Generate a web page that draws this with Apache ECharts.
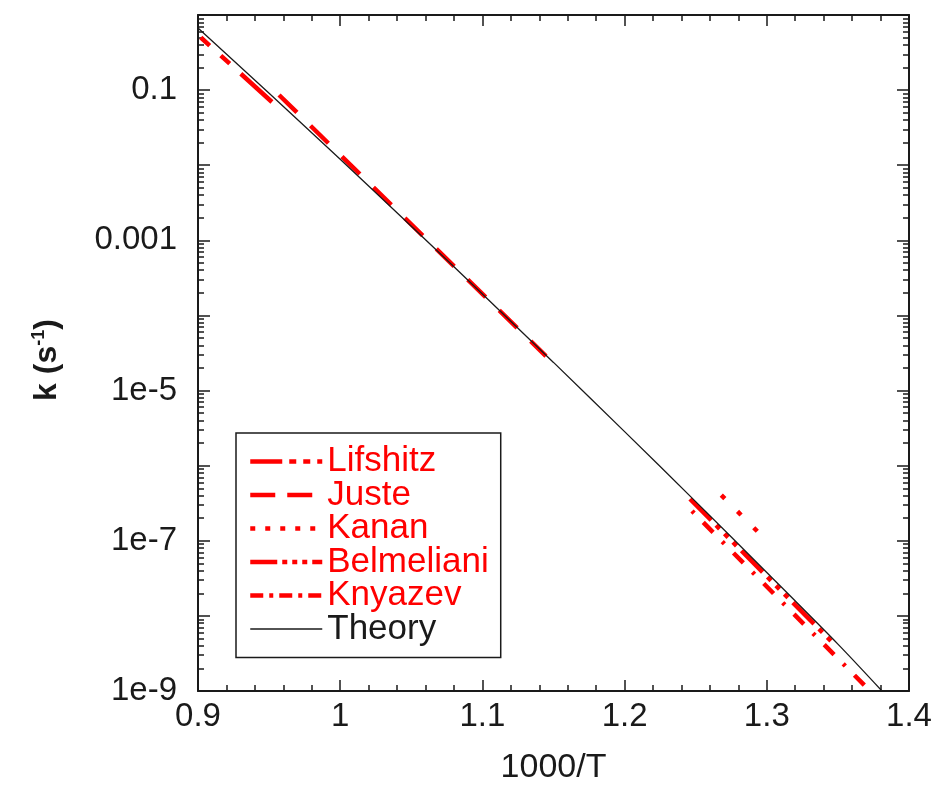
<!DOCTYPE html>
<html>
<head>
<meta charset="utf-8">
<script src="https://cdn.jsdelivr.net/npm/echarts@6/dist/echarts.min.js"></script>
<style>
  html, body { margin: 0; padding: 0; background: #fff; }
  #chart { width: 940px; height: 804px; }
</style>
</head>
<body>
<div id="chart"></div>
<script>
// Rate constant k (s^-1) versus 1000/T, log scale
const theoryX = [0.90, 0.95, 1.00, 1.05, 1.10, 1.15, 1.20, 1.25, 1.30, 1.35, 1.381];
const theoryK = [0.671, 0.0908, 0.0120, 1.54e-3, 1.93e-4, 2.37e-5, 2.84e-6, 3.32e-7, 3.78e-8, 4.21e-9, 1.0e-9];

const lifshitzX = [0.900, 0.952];
const lifshitzK = [0.542, 0.0695];

const justeX = [0.957, 1.1447];
const justeK = [0.0861, 2.88e-5];

const kananX = [1.2680, 1.2938];
const kananK = [4.05e-7, 1.31e-7];

const belmelianiX = [1.246, 1.3452];
const belmelianiK = [3.6e-7, 4.63e-9];

const knyazevX = [1.2474, 1.3726];
const knyazevK = [2.49e-7, 1.0e-9];

// y tick labels (every second decade)
const yLabelExp = [-9, -7, -5, -3, -1];
const yLabelText = ['1e-9', '1e-7', '1e-5', '0.001', '0.1'];

const FONT = '"Liberation Sans", Arial, Helvetica, sans-serif';
const RED = '#ff0000';
const INK = '#1a1a1a';
const RED_WIDTH = 4.5;

const pairs = (xs, ys) => xs.map((x, i) => [x, ys[i]]);

const majorDecades = [];
const minorDecades = [];
for (let e = -9; e <= 0; e++) {
  majorDecades.push(Math.pow(10, e));
  if (e < 0) for (let m = 2; m <= 9; m++) minorDecades.push(m * Math.pow(10, e));
}

function xAxisCfg(pos, labels) {
  return {
    type: 'value', position: pos, min: 0.9, max: 1.4, interval: 0.1,
    axisLine: { show: true, onZero: false, lineStyle: { color: INK, width: 2 } },
    axisTick: { show: true, inside: true, length: 11, lineStyle: { color: INK, width: 1.5 } },
    minorTick: { show: true, splitNumber: 5, length: 6, lineStyle: { color: INK, width: 1.5 } },
    splitLine: { show: false },
    minorSplitLine: { show: false },
    axisLabel: labels ? { show: true, fontSize: 33, color: INK, fontFamily: FONT, margin: 9 } : { show: false },
    name: labels ? '1000/T' : '',
    nameLocation: 'middle', nameGap: 60,
    nameTextStyle: { fontSize: 34, color: INK, fontFamily: FONT }
  };
}

function yAxisCfg(pos, ticks, len, line, labels) {
  const cfg = {
    type: 'log', logBase: 10, position: pos, min: 1e-9, max: 1,
    axisLine: { show: line, onZero: false, lineStyle: { color: INK, width: 2 } },
    axisTick: { show: true, inside: true, length: len, customValues: ticks, lineStyle: { color: INK, width: 1.5 } },
    minorTick: { show: false },
    splitLine: { show: false },
    axisLabel: { show: false }
  };
  if (labels) {
    cfg.axisLabel = {
      show: true, fontSize: 33, color: INK, fontFamily: FONT, margin: 21,
      customValues: yLabelExp.map(e => Math.pow(10, e)),
      formatter: v => {
        const i = yLabelExp.indexOf(Math.round(Math.log10(v)));
        return i >= 0 ? yLabelText[i] : '';
      }
    };
    cfg.name = 'k (s{sup|-1})';
    cfg.nameLocation = 'middle';
    cfg.nameGap = 134;
    cfg.nameTextStyle = {
      fontSize: 32, fontWeight: 'bold', color: INK, fontFamily: FONT, padding: [0, 14, 0, 0],
      rich: { sup: { fontSize: 18, fontFamily: FONT, color: INK, verticalAlign: 'bottom', padding: [0, 0, 16, 0] } }
    };
  }
  return cfg;
}

function redSeries(name, xs, ys, dash, reverse) {
  const d = pairs(xs, ys);
  return {
    name, type: 'line', data: reverse ? d.reverse() : d,
    showSymbol: false, symbol: 'none', silent: true,
    lineStyle: { color: RED, width: RED_WIDTH, type: dash, cap: 'butt' },
    itemStyle: { color: RED }
  };
}

function redKey(name, dash) {
  return {
    name,
    textStyle: { color: RED },
    lineStyle: { color: RED, width: RED_WIDTH, type: dash }
  };
}

const chart = echarts.init(document.getElementById('chart'), null, { renderer: 'canvas' });
chart.setOption({
  animation: false,
  backgroundColor: '#fff',
  grid: { left: 198, right: 31, top: 15, bottom: 113, containLabel: false, outerBoundsMode: 'none' },
  xAxis: [xAxisCfg('bottom', true), xAxisCfg('top', false)],
  yAxis: [
    yAxisCfg('left', majorDecades, 12, true, true),
    yAxisCfg('left', minorDecades, 6, false, false),
    yAxisCfg('right', majorDecades, 12, true, false),
    yAxisCfg('right', minorDecades, 6, false, false)
  ],
  legend: {
    orient: 'vertical', left: 236, top: 433,
    padding: [11, 12, 11, 12],
    itemWidth: 72, itemHeight: 20, itemGap: -1.5,
    backgroundColor: '#fff', borderColor: INK, borderWidth: 1.5, borderRadius: 0,
    itemStyle: { opacity: 0, borderWidth: 0 },
    textStyle: { fontSize: 35, fontFamily: FONT },
    data: [
      redKey('Lifshitz', [32, 7, 7, 7, 7, 7]),
      redKey('Juste', [25, 12]),
      redKey('Kanan', [5, 10]),
      redKey('Belmeliani', [27, 5, 5, 5, 5, 5, 5, 5]),
      redKey('Knyazev', [13, 6, 4, 6]),
      { name: 'Theory', textStyle: { color: INK }, lineStyle: { color: INK, width: 1.5, type: 'solid' } }
    ]
  },
  series: [
    redSeries('Lifshitz', lifshitzX, lifshitzK, [42, 15, 12, 15, 12, 15], true),
    redSeries('Juste', justeX, justeK, [25, 19], false),
    redSeries('Kanan', kananX, kananK, [5, 18], false),
    redSeries('Belmeliani', belmelianiX, belmelianiK, [30, 7, 5, 7, 5, 7, 5, 7], false),
    redSeries('Knyazev', knyazevX, knyazevK, [3, 13, 14, 13], false),
    {
      name: 'Theory', type: 'line', data: pairs(theoryX, theoryK),
      showSymbol: false, symbol: 'none', silent: true, smooth: 0.3,
      lineStyle: { color: INK, width: 1.3, type: 'solid' },
      itemStyle: { color: INK }
    }
  ]
});
</script>
</body>
</html>
